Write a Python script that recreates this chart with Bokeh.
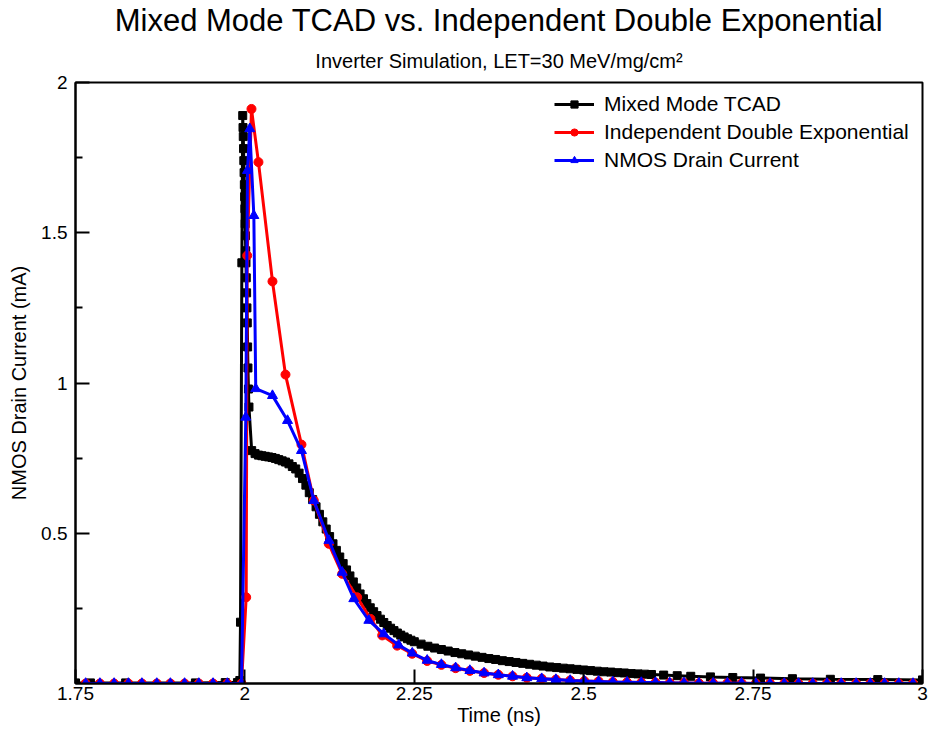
from bokeh.plotting import figure
from bokeh.models import FixedTicker, Title, Legend, LegendItem, ColumnDataSource
from bokeh.embed import file_html
from bokeh.resources import INLINE

# ---------------- data ----------------
tcad_t = [1.750, 1.772, 1.824, 1.927, 1.971, 1.989, 1.9925, 1.9935, 1.9955, 1.9968,
          1.9972, 1.9976, 1.9980, 1.9984, 1.9988, 1.9992, 1.9996, 2.0000, 2.0004, 2.0008,
          2.0012, 2.0016, 2.0020, 2.0025, 2.0030, 2.0035, 2.0040, 2.0045, 2.0052, 2.0060,
          2.010, 2.015, 2.020, 2.025, 2.030, 2.035, 2.040, 2.045, 2.050, 2.055, 2.060, 2.065,
          2.070, 2.075, 2.080, 2.085, 2.090, 2.095, 2.100, 2.105, 2.110, 2.115, 2.120, 2.125,
          2.130, 2.135, 2.140, 2.145, 2.150, 2.155, 2.160, 2.165, 2.170, 2.175, 2.180, 2.185,
          2.190, 2.195, 2.200, 2.205, 2.210, 2.215, 2.220, 2.225, 2.230, 2.235, 2.240, 2.245,
          2.25, 2.26, 2.27, 2.28, 2.29, 2.30, 2.31, 2.32, 2.33, 2.34, 2.35, 2.36, 2.37, 2.38,
          2.39, 2.40, 2.41, 2.42, 2.43, 2.44, 2.45, 2.46, 2.47, 2.48, 2.49, 2.50, 2.51, 2.52,
          2.53, 2.54, 2.55, 2.56, 2.57, 2.58, 2.59, 2.60,
          2.618, 2.638, 2.658, 2.687, 2.720, 2.761, 2.808, 2.864, 2.934, 3.000]
tcad_i = [0.002, 0.002, 0.002, 0.002, 0.003, 0.003, 0.01, 0.204, 1.40, 1.89,
          1.85, 1.82, 1.78, 1.74, 1.70, 1.66, 1.62, 1.58, 1.53, 1.49,
          1.44, 1.40, 1.35, 1.30, 1.25, 1.20, 1.12, 1.05, 0.98, 0.92,
          0.775, 0.765, 0.760, 0.758, 0.756, 0.754, 0.752, 0.749, 0.745, 0.741, 0.737, 0.731,
          0.722, 0.714, 0.700, 0.682, 0.660, 0.635, 0.612, 0.588, 0.563, 0.538, 0.514, 0.489,
          0.465, 0.443, 0.421, 0.399, 0.378, 0.358, 0.338, 0.318, 0.298, 0.282, 0.266, 0.252,
          0.239, 0.226, 0.214, 0.203, 0.193, 0.184, 0.176, 0.168, 0.161, 0.155, 0.149, 0.144,
          0.139, 0.131, 0.124, 0.118, 0.113, 0.108, 0.103, 0.099, 0.095, 0.091, 0.087, 0.083, 0.080, 0.076,
          0.073, 0.070, 0.067, 0.064, 0.061, 0.058, 0.055, 0.053, 0.051, 0.049, 0.047, 0.045, 0.043, 0.041,
          0.039, 0.038, 0.036, 0.035, 0.033, 0.032, 0.031, 0.030,
          0.028, 0.026, 0.024, 0.022, 0.020, 0.018, 0.016, 0.014, 0.013, 0.012]

dexp_t = [1.765, 1.786, 1.807, 1.828, 1.848, 1.870, 1.890, 1.911, 1.932, 1.953, 1.974, 1.995,
          2.0019, 2.0034, 2.0097, 2.0200, 2.0407, 2.0599, 2.0835, 2.1017, 2.1238, 2.1436,
          2.1657, 2.1854, 2.2026, 2.2247, 2.2469, 2.269, 2.290, 2.311, 2.332, 2.353, 2.374,
          2.395, 2.416, 2.438, 2.459, 2.480, 2.501, 2.522, 2.543, 2.564, 2.585, 2.606, 2.627,
          2.648, 2.670, 2.691, 2.712, 2.733, 2.754, 2.775, 2.796, 2.817, 2.838, 2.859, 2.880,
          2.902, 2.923, 2.944, 2.965, 2.986]
dexp_i = [0.0, 0.0, 0.0, 0.0, 0.0, 0.0, 0.0, 0.0, 0.0, 0.0, 0.0, 0.0,
          0.287, 1.424, 1.912, 1.735, 1.338, 1.028, 0.795, 0.609, 0.465, 0.365,
          0.287, 0.215, 0.160, 0.126, 0.099, 0.075, 0.062, 0.051, 0.042, 0.035, 0.029,
          0.024, 0.019, 0.016, 0.013, 0.010, 0.008, 0.007, 0.005, 0.004, 0.003, 0.003, 0.002,
          0.002, 0.001, 0.001, 0.001, 0.001, 0.0, 0.0, 0.0, 0.0, 0.0, 0.0, 0.0,
          0.0, 0.0, 0.0, 0.0, 0.0]

nmos_t = [1.765, 1.786, 1.807, 1.828, 1.848, 1.870, 1.890, 1.911, 1.932, 1.953, 1.974, 1.995,
          2.0013, 2.0038, 2.0072, 2.0132, 2.0160, 2.0407, 2.0629, 2.0835, 2.1017, 2.1240, 2.1436,
          2.1607, 2.1829, 2.2050, 2.2270, 2.2470, 2.269, 2.290, 2.311, 2.332, 2.353, 2.374,
          2.395, 2.416, 2.438, 2.459, 2.480, 2.501, 2.522, 2.543, 2.564, 2.585, 2.606, 2.627,
          2.648, 2.670, 2.691, 2.712, 2.733, 2.754, 2.775, 2.796, 2.817, 2.838, 2.859, 2.880,
          2.902, 2.923, 2.944, 2.965, 2.986]
nmos_i = [0.0, 0.0, 0.0, 0.0, 0.0, 0.0, 0.0, 0.0, 0.0, 0.0, 0.0, 0.0,
          0.886, 1.707, 1.846, 1.557, 0.981, 0.958, 0.875, 0.775, 0.609, 0.476, 0.370,
          0.282, 0.210, 0.165, 0.128, 0.101, 0.077, 0.063, 0.052, 0.043, 0.035, 0.029,
          0.024, 0.019, 0.016, 0.013, 0.010, 0.008, 0.007, 0.005, 0.004, 0.003, 0.003, 0.002,
          0.002, 0.001, 0.001, 0.001, 0.001, 0.0, 0.0, 0.0, 0.0, 0.0, 0.0, 0.0,
          0.0, 0.0, 0.0, 0.0, 0.0]

x_ticks = [1.75, 2.0, 2.25, 2.5, 2.75, 3.0]
x_tick_labels = {1.75: "1.75", 2.0: "2", 2.25: "2.25", 2.5: "2.5", 2.75: "2.75", 3.0: "3"}
y_ticks = [0.5, 1.0, 1.5, 2.0]
y_minor_ticks = [0.25, 0.75, 1.25, 1.75]
y_tick_labels = {0.5: "0.5", 1.0: "1", 1.5: "1.5", 2.0: "2"}

series_names = ["Mixed Mode TCAD", "Independent Double Exponential", "NMOS Drain Current"]

FONT = "Liberation Sans"

# ---------------- figure ----------------
p = figure(width=930, height=736, x_range=(1.75, 3.0), y_range=(0.0, 2.0),
           output_backend="svg", toolbar_location=None, title=None,
           min_border_left=75, min_border_right=8, min_border_bottom=53, min_border_top=10)

sub = Title(text="Inverter Simulation, LET=30 MeV/mg/cm²", align="center",
            text_font=FONT, text_font_size="20px", text_font_style="normal",
            text_color="black", standoff=21)
main = Title(text="Mixed Mode TCAD vs. Independent Double Exponential", align="center",
             text_font=FONT, text_font_size="31px", text_font_style="normal",
             text_color="black", standoff=0)
p.add_layout(sub, "above")
p.add_layout(main, "above")

p.grid.visible = False
p.outline_line_color = "black"
p.outline_line_width = 2
p.background_fill_color = "white"
p.border_fill_color = "white"

# x axis
xa = p.xaxis[0]
xa.ticker = FixedTicker(ticks=x_ticks, minor_ticks=[])
xa.major_label_overrides = x_tick_labels
xa.axis_label = "Time (ns)"
xa.axis_line_width = 2
xa.major_tick_in = 14
xa.major_tick_out = 0
xa.major_tick_line_width = 2
xa.minor_tick_in = 0
xa.minor_tick_out = 0
xa.major_label_standoff = 3
xa.axis_label_standoff = 1

# y axis
ya = p.yaxis[0]
ya.ticker = FixedTicker(ticks=y_ticks, minor_ticks=y_minor_ticks)
ya.major_label_overrides = y_tick_labels
ya.axis_label = "NMOS Drain Current (mA)"
ya.axis_line_width = 2
ya.major_tick_in = 14
ya.major_tick_out = 0
ya.major_tick_line_width = 2
ya.minor_tick_in = 7
ya.minor_tick_out = 0
ya.minor_tick_line_width = 2
ya.major_label_standoff = 8
ya.axis_label_standoff = 8

for ax in (xa, ya):
    ax.major_label_text_font = FONT
    ax.major_label_text_font_size = "19px"
    ax.major_label_text_color = "black"
    ax.axis_label_text_font = FONT
    ax.axis_label_text_font_size = "20px"
    ax.axis_label_text_font_style = "normal"
    ax.axis_label_text_color = "black"
    ax.axis_line_color = "black"
    ax.major_tick_line_color = "black"
    ax.minor_tick_line_color = "black"

# ---------------- glyphs ----------------
src_tcad = ColumnDataSource(dict(t=tcad_t, i=tcad_i))
src_dexp = ColumnDataSource(dict(t=dexp_t, i=dexp_i))
src_nmos = ColumnDataSource(dict(t=nmos_t, i=nmos_i))

l1 = p.line("t", "i", source=src_tcad, line_color="black", line_width=3)
m1 = p.scatter("t", "i", source=src_tcad, marker="square", size=8,
               fill_color="black", line_color="black")
l2 = p.line("t", "i", source=src_dexp, line_color="red", line_width=3)
m2 = p.scatter("t", "i", source=src_dexp, marker="circle", size=9,
               fill_color="red", line_color="red")
l3 = p.line("t", "i", source=src_nmos, line_color="blue", line_width=3)
m3 = p.scatter("t", "i", source=src_nmos, marker="triangle", size=10,
               fill_color="blue", line_color="blue")

legend = Legend(items=[
    LegendItem(label=series_names[0], renderers=[l1, m1]),
    LegendItem(label=series_names[1], renderers=[l2, m2]),
    LegendItem(label=series_names[2], renderers=[l3, m3]),
], location=(479, 511))
legend.border_line_color = None
legend.background_fill_alpha = 0
legend.label_text_font = FONT
legend.label_text_font_size = "21px"
legend.label_text_color = "black"
legend.glyph_width = 40
legend.glyph_height = 18
legend.label_height = 18
legend.spacing = 4
legend.padding = 4
legend.margin = 0
legend.label_standoff = 10
p.add_layout(legend, "center")

open("out.html", "w").write(file_html(p, INLINE))
